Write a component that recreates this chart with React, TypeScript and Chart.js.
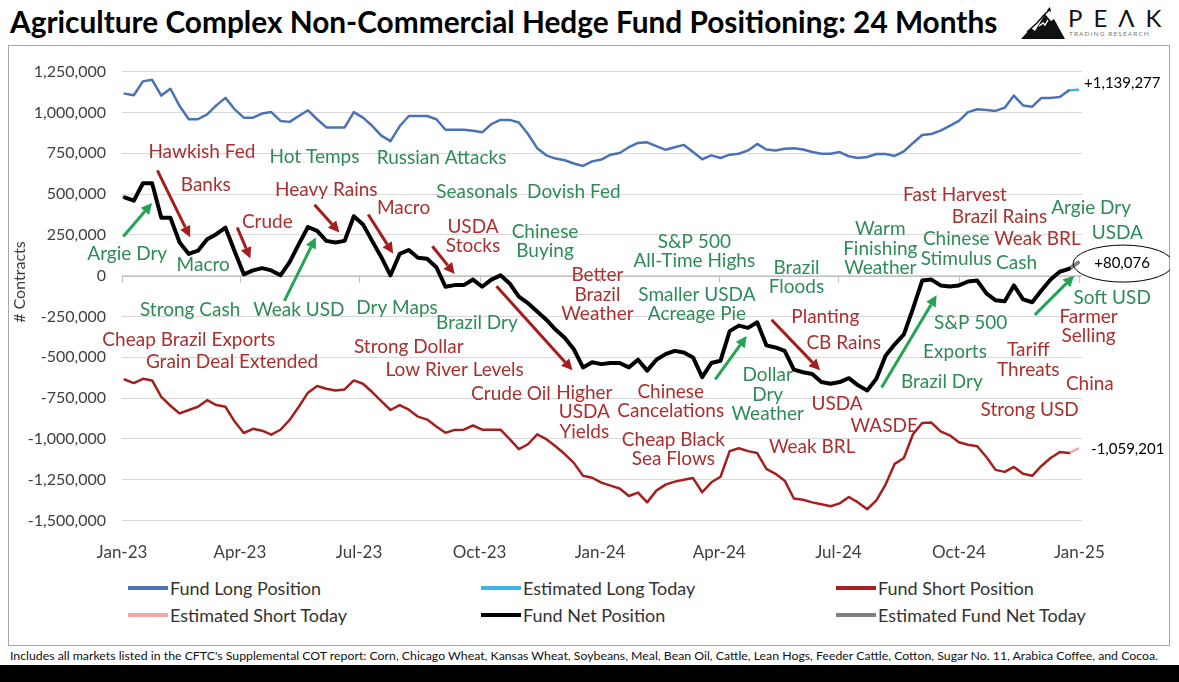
import React, { useEffect, useRef } from 'react';
import { Chart, registerables } from 'chart.js';

Chart.register(...registerables);

// ---------- Data ----------
const QUARTER_LABELS = ['Jan-23', 'Apr-23', 'Jul-23', 'Oct-23', 'Jan-24', 'Apr-24', 'Jul-24', 'Oct-24', 'Jan-25'];
// days since 1 Jan 2023 for each quarter label
const QUARTER_DAYS = [0, 90, 181, 273, 365, 456, 547, 639, 731];
const FIRST_REPORT_DAY = 2; // 3 Jan 2023
const DAYS_PER_WEEK = 7;
const ESTIMATE_DAY = 730;

const FUND_LONG = [
  1115000, 1105000, 1190000, 1200000, 1103000, 1145000, 1039000, 958000, 958000, 988000,
  1043000, 1089000, 1019000, 968000, 968000, 993000, 1002000, 948000, 942000, 978000,
  1013000, 958000, 908000, 908000, 908000, 1002000, 968000, 918000, 858000, 824000,
  915000, 978000, 978000, 978000, 958000, 894000, 894000, 894000, 888000, 878000,
  928000, 954000, 954000, 938000, 868000, 781000, 737000, 717000, 707000, 687000,
  672000, 700000, 711000, 741000, 751000, 787000, 813000, 817000, 793000, 771000,
  787000, 801000, 757000, 713000, 737000, 721000, 741000, 747000, 767000, 807000,
  773000, 767000, 777000, 781000, 773000, 757000, 747000, 747000, 757000, 731000,
  721000, 727000, 745000, 745000, 733000, 761000, 813000, 862000, 868000, 888000,
  918000, 948000, 1002000, 1019000, 1015000, 1009000, 1029000, 1103000, 1043000, 1035000,
  1089000, 1089000, 1095000, 1135000,
];

const FUND_SHORT = [
  -636000, -658000, -632000, -642000, -743000, -797000, -844000, -823000, -803000, -763000,
  -793000, -803000, -894000, -964000, -938000, -950000, -974000, -944000, -884000, -803000,
  -717000, -676000, -693000, -703000, -697000, -642000, -662000, -713000, -769000, -823000,
  -793000, -821000, -864000, -882000, -924000, -963000, -945000, -944000, -918000, -944000,
  -944000, -944000, -1002000, -1063000, -1033000, -972000, -1002000, -1045000, -1093000, -1147000,
  -1226000, -1238000, -1268000, -1286000, -1304000, -1350000, -1329000, -1389000, -1317000, -1280000,
  -1262000, -1250000, -1240000, -1327000, -1266000, -1232000, -1075000, -1057000, -1075000, -1087000,
  -1184000, -1214000, -1256000, -1365000, -1373000, -1389000, -1401000, -1413000, -1395000, -1356000,
  -1389000, -1431000, -1377000, -1280000, -1153000, -1117000, -970000, -903000, -900000, -954000,
  -978000, -1021000, -1036000, -1045000, -1111000, -1190000, -1202000, -1172000, -1214000, -1226000,
  -1166000, -1117000, -1081000, -1087000,
];

const FUND_NET = [
  479000, 459000, 566000, 566000, 354000, 354000, 203000, 133000, 153000, 223000,
  254000, 294000, 150000, 8000, 32000, 46000, 32000, 2000, 83000, 193000,
  298000, 274000, 213000, 203000, 213000, 364000, 314000, 213000, 113000, 2000,
  133000, 157000, 109000, 103000, 52000, -68000, -58000, -58000, -24000, -68000,
  -24000, 2000, -48000, -129000, -169000, -219000, -270000, -330000, -380000, -451000,
  -562000, -531000, -542000, -535000, -535000, -562000, -515000, -582000, -515000, -481000,
  -461000, -471000, -501000, -622000, -535000, -521000, -340000, -306000, -320000, -286000,
  -427000, -440000, -461000, -576000, -592000, -602000, -652000, -662000, -652000, -628000,
  -672000, -703000, -632000, -491000, -421000, -360000, -200000, -30000, -24000, -60000,
  -66000, -60000, -36000, -30000, -109000, -151000, -157000, -60000, -145000, -163000,
  -91000, -24000, 24000, 42000,
];

const ESTIMATED_LONG = 1139277;
const ESTIMATED_SHORT = -1059201;
const ESTIMATED_NET = 80076;

const LEGEND_LABELS = [
  'Fund Long Position', 'Estimated Long Today', 'Fund Short Position',
  'Estimated Short Today', 'Fund Net Position', 'Estimated Fund Net Today',
];

type Tone = 'red' | 'green';
type Note = { text: string[]; day: number; value: number; tone: Tone };
const NOTES: Note[] = [
  { text: ['Hawkish Fed'], day: 61, value: 760000, tone: 'red' },
  { text: ['Banks'], day: 64, value: 555000, tone: 'red' },
  { text: ['Hot Temps'], day: 147, value: 730000, tone: 'green' },
  { text: ['Russian Attacks'], day: 244, value: 720000, tone: 'green' },
  { text: ['Heavy Rains'], day: 156, value: 525000, tone: 'red' },
  { text: ['Macro'], day: 215, value: 415000, tone: 'red' },
  { text: ['Crude'], day: 111, value: 330000, tone: 'red' },
  { text: ['Argie Dry'], day: 4, value: 135000, tone: 'green' },
  { text: ['Macro'], day: 62, value: 65000, tone: 'green' },
  { text: ['Seasonals'], day: 271, value: 515000, tone: 'green' },
  { text: ['Dovish Fed'], day: 345, value: 515000, tone: 'green' },
  { text: ['USDA', 'Stocks'], day: 268, value: 240000, tone: 'red' },
  { text: ['Chinese', 'Buying'], day: 323, value: 210000, tone: 'green' },
  { text: ['S&P 500', 'All-Time Highs'], day: 437, value: 150000, tone: 'green' },
  { text: ['Better', 'Brazil', 'Weather'], day: 363, value: -115000, tone: 'red' },
  { text: ['Brazil', 'Floods'], day: 515, value: -10000, tone: 'green' },
  { text: ['Warm', 'Finishing', 'Weather'], day: 579, value: 165000, tone: 'green' },
  { text: ['Chinese', 'Stimulus'], day: 637, value: 165000, tone: 'green' },
  { text: ['Fast Harvest'], day: 636, value: 495000, tone: 'red' },
  { text: ['Brazil Rains'], day: 670, value: 360000, tone: 'red' },
  { text: ['Argie Dry'], day: 740, value: 415000, tone: 'green' },
  { text: ['Weak BRL'], day: 699, value: 225000, tone: 'red' },
  { text: ['USDA'], day: 760, value: 260000, tone: 'green' },
  { text: ['Cash'], day: 683, value: 80000, tone: 'green' },
  { text: ['Soft USD'], day: 756, value: -135000, tone: 'green' },
  { text: ['Farmer', 'Selling'], day: 738, value: -310000, tone: 'red' },
  { text: ['Tariff', 'Threats'], day: 692, value: -515000, tone: 'red' },
  { text: ['China'], day: 739, value: -665000, tone: 'red' },
  { text: ['Strong USD'], day: 693, value: -820000, tone: 'red' },
  { text: ['S&P 500'], day: 648, value: -290000, tone: 'green' },
  { text: ['Exports'], day: 636, value: -470000, tone: 'green' },
  { text: ['Brazil Dry'], day: 626, value: -650000, tone: 'green' },
  { text: ['Planting'], day: 537, value: -255000, tone: 'red' },
  { text: ['CB Rains'], day: 551, value: -410000, tone: 'red' },
  { text: ['USDA'], day: 546, value: -785000, tone: 'red' },
  { text: ['WASDE'], day: 582, value: -920000, tone: 'red' },
  { text: ['Weak BRL'], day: 527, value: -1050000, tone: 'red' },
  { text: ['Dollar', 'Dry', 'Weather'], day: 493, value: -730000, tone: 'green' },
  { text: ['Smaller USDA', 'Acreage Pie'], day: 439, value: -175000, tone: 'green' },
  { text: ['Chinese', 'Cancelations'], day: 419, value: -770000, tone: 'red' },
  { text: ['Cheap Black', 'Sea Flows'], day: 421, value: -1065000, tone: 'red' },
  { text: ['Higher', 'USDA', 'Yields'], day: 353, value: -835000, tone: 'red' },
  { text: ['Crude Oil'], day: 297, value: -725000, tone: 'red' },
  { text: ['Low River Levels'], day: 254, value: -575000, tone: 'red' },
  { text: ['Strong Dollar'], day: 219, value: -435000, tone: 'red' },
  { text: ['Brazil Dry'], day: 271, value: -290000, tone: 'green' },
  { text: ['Dry Maps'], day: 210, value: -195000, tone: 'green' },
  { text: ['Weak USD'], day: 135, value: -210000, tone: 'green' },
  { text: ['Strong Cash'], day: 52, value: -210000, tone: 'green' },
  { text: ['Cheap Brazil Exports'], day: 51, value: -395000, tone: 'red' },
  { text: ['Grain Deal Extended'], day: 84, value: -530000, tone: 'red' },
];

type Arrow = { from: [number, number]; to: [number, number]; tone: Tone };
const ARROWS: Arrow[] = [
  { from: [1, 240000], to: [23, 445000], tone: 'green' },
  { from: [124, -155000], to: [148, 235000], tone: 'green' },
  { from: [453, -635000], to: [477, -370000], tone: 'green' },
  { from: [580, -685000], to: [622, -120000], tone: 'green' },
  { from: [697, -240000], to: [727, 0], tone: 'green' },
  { from: [27, 645000], to: [52, 235000], tone: 'red' },
  { from: [88, 295000], to: [98, 105000], tone: 'red' },
  { from: [147, 435000], to: [166, 265000], tone: 'red' },
  { from: [188, 375000], to: [207, 135000], tone: 'red' },
  { from: [237, 180000], to: [254, 10000], tone: 'red' },
  { from: [286, -65000], to: [344, -580000], tone: 'red' },
  { from: [496, -270000], to: [533, -580000], tone: 'red' },
];

const FOOTNOTE =
  "Includes all markets listed in the CFTC's Supplemental COT report: Corn, Chicago Wheat, Kansas Wheat, Soybeans, Meal, Bean Oil, Cattle, Lean Hogs, Feeder Cattle, Cotton, Sugar No. 11, Arabica Coffee, and Cocoa.";

// ---------- Styles ----------
const FONT = 'Lato, "Open Sans", sans-serif';
const COLORS = {
  long: '#4A72B5',
  estLong: '#3DB4E5',
  short: '#A3201F',
  estShort: '#F2A7A7',
  net: '#000000',
  estNet: '#808080',
};
const TEXT_TONE: Record<Tone, string> = { red: '#A8302F', green: '#2E8B57' };
const ARROW_TONE: Record<Tone, string> = { red: '#A51C1C', green: '#22A553' };

const weekDay = (i: number) => FIRST_REPORT_DAY + DAYS_PER_WEEK * i;
const toPoints = (arr: number[]) => arr.map((v, i) => ({ x: weekDay(i), y: v }));
const estimatePoints = (arr: number[], est: number) => [
  { x: weekDay(arr.length - 1), y: arr[arr.length - 1] },
  { x: ESTIMATE_DAY, y: est },
];
const fmtSigned = (v: number) => (v > 0 ? '+' : '') + v.toLocaleString('en-US');

const overlayPlugin = {
  id: 'overlay',
  beforeDatasetsDraw(chart: any) {
    const { ctx, chartArea, scales } = chart;
    const x = scales.x;
    const y = scales.y;
    const y0 = y.getPixelForValue(0);
    ctx.save();
    ctx.strokeStyle = '#BFBFBF';
    ctx.lineWidth = 1;
    ctx.beginPath();
    ctx.moveTo(chartArea.left, Math.round(y0) + 0.5);
    ctx.lineTo(chartArea.right, Math.round(y0) + 0.5);
    QUARTER_DAYS.forEach((d) => {
      const px = Math.round(x.getPixelForValue(d)) + 0.5;
      ctx.moveTo(px, y0);
      ctx.lineTo(px, y0 + 7);
    });
    ctx.stroke();
    ctx.restore();
  },
  afterDatasetsDraw(chart: any) {
    const { ctx, chartArea, scales } = chart;
    const x = scales.x;
    const y = scales.y;
    ctx.save();

    // axis title
    ctx.save();
    ctx.translate(12, (chartArea.top + chartArea.bottom) / 2 - 14);
    ctx.rotate(-Math.PI / 2);
    ctx.font = `16px ${FONT}`;
    ctx.fillStyle = '#404040';
    ctx.textAlign = 'center';
    ctx.textBaseline = 'middle';
    ctx.fillText('# Contracts', 0, 0);
    ctx.restore();

    // arrows
    ARROWS.forEach((a) => {
      const x1 = x.getPixelForValue(a.from[0]);
      const y1 = y.getPixelForValue(a.from[1]);
      const x2 = x.getPixelForValue(a.to[0]);
      const y2 = y.getPixelForValue(a.to[1]);
      const ang = Math.atan2(y2 - y1, x2 - x1);
      const head = 11;
      const hw = 5.5;
      const bx = x2 - head * Math.cos(ang);
      const by = y2 - head * Math.sin(ang);
      ctx.strokeStyle = ARROW_TONE[a.tone];
      ctx.fillStyle = ARROW_TONE[a.tone];
      ctx.lineWidth = 3;
      ctx.beginPath();
      ctx.moveTo(x1, y1);
      ctx.lineTo(bx, by);
      ctx.stroke();
      ctx.beginPath();
      ctx.moveTo(x2, y2);
      ctx.lineTo(bx + hw * Math.sin(ang), by - hw * Math.cos(ang));
      ctx.lineTo(bx - hw * Math.sin(ang), by + hw * Math.cos(ang));
      ctx.closePath();
      ctx.fill();
    });

    // text notes
    ctx.font = `19px ${FONT}`;
    ctx.textAlign = 'center';
    ctx.textBaseline = 'middle';
    const lh = 19.5;
    NOTES.forEach((n) => {
      const cx = x.getPixelForValue(n.day);
      const cy = y.getPixelForValue(n.value);
      ctx.fillStyle = TEXT_TONE[n.tone];
      n.text.forEach((line, i) => {
        ctx.fillText(line, cx, cy + (i - (n.text.length - 1) / 2) * lh);
      });
    });

    // end value labels
    const ex = x.getPixelForValue(ESTIMATE_DAY);
    ctx.font = `15px ${FONT}`;
    ctx.fillStyle = '#000';
    ctx.textAlign = 'left';
    ctx.fillText(fmtSigned(ESTIMATED_LONG), ex + 6, y.getPixelForValue(ESTIMATED_LONG) - 7);
    ctx.fillText(fmtSigned(ESTIMATED_SHORT), ex + 13, y.getPixelForValue(ESTIMATED_SHORT) + 1);
    const ny = y.getPixelForValue(ESTIMATED_NET);
    ctx.textAlign = 'center';
    ctx.fillText(fmtSigned(ESTIMATED_NET), ex + 44, ny + 1);
    ctx.strokeStyle = '#000';
    ctx.lineWidth = 1;
    ctx.beginPath();
    ctx.ellipse(ex + 45, ny + 1, 50, 18.5, 0, 0, Math.PI * 2);
    ctx.stroke();

    ctx.restore();
  },
};

function ChartCanvas() {
  const ref = useRef<HTMLCanvasElement | null>(null);
  useEffect(() => {
    if (!ref.current) return;
    Chart.defaults.font.family = FONT;
    const line = (label: string, data: any[], color: string, width: number) => ({
      label,
      data,
      borderColor: color,
      backgroundColor: color,
      borderWidth: width,
      pointRadius: 0,
      pointHoverRadius: 0,
      fill: false,
      tension: 0,
      borderJoinStyle: 'round' as const,
      borderCapStyle: 'round' as const,
    });
    const chart = new Chart(ref.current, {
      type: 'line',
      data: {
        datasets: [
          line(LEGEND_LABELS[0], toPoints(FUND_LONG), COLORS.long, 2.5),
          line(LEGEND_LABELS[1], estimatePoints(FUND_LONG, ESTIMATED_LONG), COLORS.estLong, 2.5),
          line(LEGEND_LABELS[2], toPoints(FUND_SHORT), COLORS.short, 2.5),
          line(LEGEND_LABELS[3], estimatePoints(FUND_SHORT, ESTIMATED_SHORT), COLORS.estShort, 2.5),
          line(LEGEND_LABELS[4], toPoints(FUND_NET), COLORS.net, 4),
          line(LEGEND_LABELS[5], estimatePoints(FUND_NET, ESTIMATED_NET), COLORS.estNet, 4),
        ],
      },
      options: {
        animation: false,
        responsive: false,
        devicePixelRatio: 1,
        parsing: false as any,
        layout: { padding: { left: 0, right: 88, top: 10.4, bottom: 5.5 } },
        plugins: { legend: { display: false }, tooltip: { enabled: false } },
        scales: {
          x: {
            type: 'linear',
            min: 0,
            max: 733,
            grid: { display: false, drawTicks: false },
            border: { display: false },
            afterBuildTicks: (axis: any) => {
              axis.ticks = QUARTER_DAYS.map((v) => ({ value: v }));
            },
            afterFit: (s: any) => {
              s.height = 40;
            },
            ticks: {
              autoSkip: false,
              maxRotation: 0,
              padding: 22,
              color: '#404040',
              font: { size: 17, family: FONT },
              callback: (_v: any, i: number) => QUARTER_LABELS[i] ?? '',
            },
          },
          y: {
            min: -1500000,
            max: 1250000,
            grid: { color: '#D9D9D9', drawTicks: false, lineWidth: 1 },
            border: { display: false },
            afterFit: (s: any) => {
              s.width = 114;
            },
            ticks: {
              stepSize: 250000,
              padding: 16,
              color: '#404040',
              font: { size: 16, family: FONT },
              callback: (v: any) => Number(v).toLocaleString('en-US'),
            },
          },
        },
      },
      plugins: [overlayPlugin],
    });
    return () => chart.destroy();
  }, []);
  return (
    <canvas
      ref={ref}
      width={1162}
      height={520}
      style={{ position: 'absolute', left: 8, top: 46, width: 1162, height: 520 }}
    />
  );
}

const LEGEND_COLORS = [COLORS.long, COLORS.estLong, COLORS.short, COLORS.estShort, COLORS.net, COLORS.estNet];
const LEGEND_COL_X = [128, 481, 836];
const LEGEND_ROW_Y = [588, 615];

export default function App() {
  return (
    <div
      style={{
        position: 'absolute',
        left: 0,
        top: 0,
        width: 1179,
        height: 682,
        background: '#fff',
        overflow: 'hidden',
        fontFamily: FONT,
      }}
    >
      <div
        style={{
          position: 'absolute',
          left: 10,
          top: 3.5,
          fontSize: 29.8,
          fontWeight: 700,
          color: '#000',
          whiteSpace: 'nowrap',
          lineHeight: 1.2,
        }}
      >
        Agriculture Complex Non-Commercial Hedge Fund Positioning: 24 Months
      </div>
      {/* logo */}
      <svg style={{ position: 'absolute', left: 1021, top: 6 }} width={44} height={34} viewBox="0 0 44 34">
        <polygon points="0,33 10,22 14,25 24,8 30,15 33,13 44,33" fill="#111" />
        <polyline points="18,20 22,17 24,19 27,14" fill="none" stroke="#fff" strokeWidth={1.4} />
        <polyline points="6,26 16,17 22,10 29,3" fill="none" stroke="#111" strokeWidth={1.5} />
        <polygon points="29,1 30,6 26,4" fill="#111" />
      </svg>
      <div
        style={{
          position: 'absolute',
          left: 1068,
          top: 6,
          fontSize: 24,
          fontWeight: 400,
          letterSpacing: 11,
          color: '#111',
          lineHeight: 1,
          whiteSpace: 'nowrap',
        }}
      >
        PEΛK
      </div>
      <div
        style={{
          position: 'absolute',
          left: 1069,
          top: 31,
          fontSize: 6.5,
          letterSpacing: 1.1,
          color: '#777',
          whiteSpace: 'nowrap',
          lineHeight: 1,
        }}
      >
        TRADING RESEARCH
      </div>
      {/* frame */}
      <div
        style={{
          position: 'absolute',
          left: 8,
          top: 45,
          width: 1160,
          height: 599,
          border: '1.5px solid #A6A6A6',
        }}
      />
      <ChartCanvas />
      {/* legend */}
      {LEGEND_LABELS.map((label, i) => {
        const col = i % 3;
        const row = Math.floor(i / 3);
        return (
          <div
            key={label}
            style={{
              position: 'absolute',
              left: LEGEND_COL_X[col],
              top: LEGEND_ROW_Y[row] - 11,
              height: 22,
              display: 'flex',
              alignItems: 'center',
              whiteSpace: 'nowrap',
            }}
          >
            <span style={{ display: 'inline-block', width: 40, height: 4, background: LEGEND_COLORS[i], marginRight: 2 }} />
            <span style={{ fontSize: 18, color: '#333' }}>{label}</span>
          </div>
        );
      })}
      <div
        style={{
          position: 'absolute',
          left: 10,
          top: 650,
          fontSize: 12.3,
          color: '#111',
          whiteSpace: 'nowrap',
          lineHeight: 1,
        }}
      >
        {FOOTNOTE}
      </div>
      <div style={{ position: 'absolute', left: 0, top: 665, width: 1179, height: 17, background: '#000' }} />
    </div>
  );
}
